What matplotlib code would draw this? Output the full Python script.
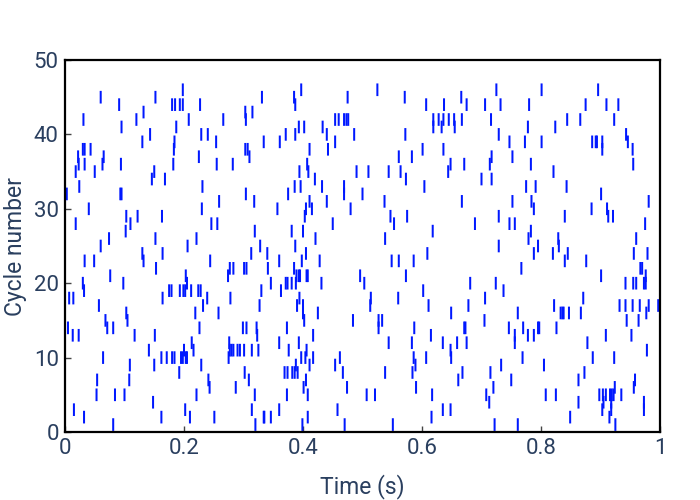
import matplotlib
matplotlib.use("Agg")
import matplotlib.pyplot as plt

cycle_01 = [.081, .320, .399, .470, .551, .722, .761, .925]
cycle_02 = [.032, .162, .210, .251, .334, .335, .346, .408, .616, .849, .915]
cycle_03 = [.015, .202, .314, .360, .458, .635, .648, .903, .918, .973]
cycle_04 = [.148, .713, .863, .905, .918, .973]
cycle_05 = [.053, .084, .100, .221, .319, .373, .408, .507, .521, .617, .708, .808, .825, .898, .904, .909, .916, .919, .922, .935]
cycle_06 = [.243, .287, .401, .474, .590, .720, .924, .956]
cycle_07 = [.054, .108, .241, .309, .405, .661, .750, .863, .958]
cycle_08 = [.192, .302, .369, .374, .382, .386, .391, .467, .538, .584, .668, .715, .873]
cycle_09 = [.109, .150, .229, .388, .411, .454, .589, .733, .805]
cycle_10 = [.064, .162, .171, .180, .184, .195, .198, .203, .205, .275, .397, .404, .417, .462, .586, .607, .649, .769, .887, .923]
cycle_11 = [.141, .200, .216, .277, .280, .283, .290, .294, .301, .314, .325, .376, .406, .648, .978]
cycle_12 = [.213, .276, .360, .393, .544, .583, .635, .659, .675, .756, .878]
cycle_13 = [.013, .023, .117, .151, .323, .417, .615, .756, .778, .788, .909, .952]
cycle_14 = [.005, .071, .081, .226, .299, .305, .322, .373, .527, .587, .671, .673, .746, .770, .795, .797, .826]
cycle_15 = [.068, .105, .402, .484, .527, .533, .705, .944, .964]
cycle_16 = [.103, .219, .258, .400, .425, .649, .761, .833, .836, .838, .847, .867, .977]
cycle_17 = [.057, .232, .327, .390, .400, .513, .611, .678, .822, .932, .942, .954, .966, .981, .997]
cycle_18 = [.007, .014, .164, .239, .278, .394, .514, .560, .706, .871]
cycle_19 = [.032, .175, .179, .193, .199, .202, .212, .224, .228, .330, .363, .602, .737]
cycle_20 = [.030, .098, .205, .346, .371, .374, .381, .388, .431, .503, .681, .724, .942, .955, .960, .973, .976]
cycle_21 = [.076, .203, .274, .389, .393, .395, .406, .408, .496, .573, .901, .976]
cycle_22 = [.153, .277, .283, .301, .305, .341, .385, .767, .967, .970]
cycle_23 = [.033, .049, .132, .244, .360, .398, .428, .549, .561, .586, .840, .876]
cycle_24 = [.130, .164, .313, .340, .405, .609, .788, .820, .845, .956, .979]
cycle_25 = [.060, .206, .328, .387, .729, .795, .830]
cycle_26 = [.074, .152, .221, .421, .538, .779, .829, .960]
cycle_27 = [.102, .319, .381, .400, .618, .783]
cycle_28 = [.018, .110, .246, .256, .450, .553, .689, .747, .756, .975]
cycle_29 = [.103, .122, .163, .403, .547, .575, .729, .840, .913, .921]
cycle_30 = [.040, .230, .357, .405, .415, .480, .788, .885, .911]
cycle_31 = [.259, .318, .411, .440, .537, .667, .752, .784, .981]
cycle_32 = [.003, .093, .095, .304, .375, .469, .500, .901]
cycle_33 = [.024, .231, .386, .396, .432, .469, .604, .775, .791, .843]
cycle_34 = [.146, .168, .420, .573, .700, .717]
cycle_35 = [.018, .050, .150, .394, .409, .490, .510, .544, .564, .644, .821]
cycle_36 = [.023, .033, .063, .094, .182, .255, .282, .407, .648, .671, .714, .783, .955]
cycle_37 = [.022, .065, .225, .310, .561, .583, .717, .752]
cycle_38 = [.030, .033, .043, .183, .303, .307, .411, .442, .601, .636, .903, .954]
cycle_39 = [.130, .184, .254, .334, .361, .454, .747, .773, .801, .886, .892, .894, .903, .946]
cycle_40 = [.143, .229, .240, .371, .387, .440, .486, .572, .729, .943]
cycle_41 = [.095, .187, .393, .402, .433, .619, .633, .655, .778, .824]
cycle_42 = [.031, .120, .208, .266, .304, .454, .460, .469, .473, .476, .619, .628, .636, .645, .654, .667, .716, .844, .866, .923]
cycle_43 = [.132, .303, .315]
cycle_44 = [.091, .180, .185, .193, .198, .227, .387, .607, .637, .675, .706, .732, .780, .875, .910, .930]
cycle_45 = [.060, .152, .331, .385, .475, .571, .666]
cycle_46 = [.198, .397, .525, .725, .801, .896]

cycles = [cycle_01, cycle_02, cycle_03, cycle_04, cycle_05, cycle_06, cycle_07, cycle_08,
          cycle_09, cycle_10, cycle_11, cycle_12, cycle_13, cycle_14, cycle_15, cycle_16,
          cycle_17, cycle_18, cycle_19, cycle_20, cycle_21, cycle_22, cycle_23, cycle_24,
          cycle_25, cycle_26, cycle_27, cycle_28, cycle_29, cycle_30, cycle_31, cycle_32,
          cycle_33, cycle_34, cycle_35, cycle_36, cycle_37, cycle_38, cycle_39, cycle_40,
          cycle_41, cycle_42, cycle_43, cycle_44, cycle_45, cycle_46]
x_ticks = [0, 0.2, 0.4, 0.6, 0.8, 1]
x_tick_labels = ["0", "0.2", "0.4", "0.6", "0.8", "1"]
y_ticks = [0, 10, 20, 30, 40, 50]

INK = "#2a3f5f"
plt.rcParams["font.family"] = ["Roboto", "DejaVu Sans"]

fig = plt.figure(figsize=(7, 5), dpi=100)
ax = fig.add_axes([65 / 700, 1 - 432 / 500, 595 / 700, 372 / 500])
raster = ax.eventplot(cycles, lineoffsets=range(1, len(cycles) + 1), linelengths=1.7,
                      linewidths=1.45, colors="#0018ff")
for coll in raster:
    coll.set_snap(False)
ax.set_xlim(0, 1)
ax.set_ylim(0, 50)
ax.set_xticks(x_ticks, x_tick_labels)
ax.set_yticks(y_ticks)
ax.tick_params(direction="in", length=4.5, width=1.0, color="#444444",
               labelsize=16, labelcolor=INK, pad=4.5)
ax.set_xlabel("Time (s)", fontsize=16.5, color=INK, labelpad=11)
ax.set_ylabel("Cycle number", fontsize=16.5, color=INK, labelpad=5)
for s in ax.spines.values():
    s.set_linewidth(1.6)
    s.set_color("black")
fig.savefig("out.png", dpi=100)
